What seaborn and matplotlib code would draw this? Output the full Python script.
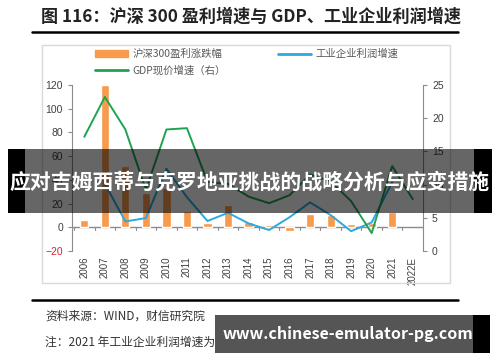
import numpy as np
import pandas as pd
import matplotlib
matplotlib.use("Agg")
import matplotlib.pyplot as plt
import seaborn as sns
from matplotlib.patches import Rectangle, Patch
from matplotlib.lines import Line2D

# values
years = ['2006', '2007', '2008', '2009', '2010', '2011', '2012', '2013', '2014',
         '2015', '2016', '2017', '2018', '2019', '2020', '2021', '2022E']
csi300_growth = [6.5, 120, 52, 29, 33, 14, 3.4, 18.5, 4.5, 2.3, -3, 11.2, 10.4, 2.8, 4, 13.2, np.nan]
industry_profit = [np.nan, 36.7, 4.9, 7.8, 49.4, 25.4, 5.3, 12.2, 3.3, -2.3, 8.5, 21.0, 10.3, -3.3, 4.1, 38.0, np.nan]
gdp_nominal = [17.2, 23.2, 18.3, 9.2, 18.3, 18.5, 10.4, 10.1, 8.2, 7.2, 8.4, 11.5, 10.5, 7.5, 2.7, 12.8, 7.8]

left_ticks = [-20, 0, 20, 40, 60, 80, 100, 120]
right_ticks = [0, 5, 10, 15, 20, 25]

c_bar = '#F79A4C'
c_blue = '#2BA9E0'
c_green = '#1FA352'
c_axis = '#8C8C8C'
c_txt = '#404040'

df = pd.DataFrame({'year': years, 'pos': np.arange(len(years)), 'csi': csi300_growth,
                   'ind': industry_profit, 'gdp': gdp_nominal})

sns.set_style('white')
plt.rcParams['font.family'] = ['Liberation Sans', 'Noto Sans CJK SC', 'DejaVu Sans']
cjk = ['Noto Sans CJK SC', 'DejaVu Sans']

W, H = 500, 362
fig = plt.figure(figsize=(5, 3.62), dpi=100)

def fx(x):
    return x / W

def fy(y):
    return 1 - y / H

ax = fig.add_axes([fx(72), fy(251), fx(423) - fx(72), fy(85) - fy(251)])
ax2 = ax.twinx()

sns.barplot(data=df, x='year', y='csi', color=c_bar, width=0.4, ax=ax, saturation=1, zorder=2)
sns.lineplot(data=df.dropna(subset=['ind']), x='pos', y='ind', color=c_blue, lw=1.4, ax=ax, zorder=3)
sns.lineplot(data=df, x='pos', y='gdp', color=c_green, lw=1.4, ax=ax2, zorder=3)

ax.set_xlim(-0.6, len(years) - 0.5)
ax.set_ylim(-20, 120)
ax2.set_ylim(0, 25)
ax.set_yticks(left_ticks)
ax2.set_yticks(right_ticks)
ax.set_xlabel('')
ax.set_ylabel('')
ax2.set_ylabel('')

# x axis drawn on the zero line, labels kept low
for a in (ax, ax2):
    a.spines['top'].set_visible(False)
    a.spines['bottom'].set_visible(False)
    a.patch.set_visible(False)
ax.spines['right'].set_visible(False)
ax2.spines['left'].set_visible(False)
ax.spines['left'].set_color(c_axis)
ax2.spines['right'].set_color(c_axis)
ax.axhline(0, color=c_axis, lw=1, zorder=1)
ax.set_xticks(np.arange(len(years)))
ax.set_xticklabels(years, rotation=90, fontsize=7, color=c_txt)
ax.tick_params(axis='x', length=0, pad=4)
for p in np.arange(-0.5, len(years), 1):
    ax.plot([p, p], [0, -2.5], color=c_axis, lw=0.8, zorder=1)

ax.tick_params(axis='y', labelsize=7.5, colors=c_txt, length=3, color=c_axis, left=True)
ax2.tick_params(axis='y', labelsize=7.5, colors=c_txt, length=3, color=c_axis, right=True)
ax.get_yticklabels()[0].set_color('#E0202E')

# legend
handles = [Patch(color=c_bar), Line2D([], [], color=c_green, lw=2), Line2D([], [], color=c_blue, lw=2)]
labels = ['沪深300盈利涨跌幅', 'GDP现价增速（右）', '工业企业利润增速']
fig.legend(handles, labels, loc='upper left', bbox_to_anchor=(fx(95), fy(49)), ncol=2,
           frameon=False, prop={'family': cjk, 'size': 7.5}, labelcolor='#595959',
           handlelength=3.2, handletextpad=0.4, columnspacing=5, labelspacing=0.6,
           borderaxespad=0, borderpad=0)

# chart frame, title and rules
fig.add_artist(Rectangle((fx(42), fy(283)), fx(450) - fx(42), fy(45) - fy(283),
                         transform=fig.transFigure, fill=False, ec='#D9D9D9', lw=1))
fig.text(fx(251), fy(17), '图 116：沪深 300 盈利增速与 GDP、工业企业利润增速', ha='center', va='center',
         fontsize=12.3, fontweight='bold', family=cjk, color='#222222')
for yy in (32, 300):
    fig.add_artist(Line2D([fx(32), fx(458)], [fy(yy), fy(yy)], transform=fig.transFigure,
                          color='black', lw=1.8))
fig.text(fx(45), fy(316), '资料来源：WIND，财信研究院', ha='left', va='center', fontsize=8.5,
         family=cjk, color='#333333', style='italic')
fig.text(fx(45), fy(342), '注：2021 年工业企业利润增速为 1-11 月值', ha='left', va='center', fontsize=8.5,
         family=cjk, color='#333333', style='italic')

# headline banner over the chart
fig.add_artist(Rectangle((fx(8), fy(213)), fx(492) - fx(8), fy(149) - fy(213),
                         transform=fig.transFigure, color='black', alpha=0.6, lw=0, zorder=10))
for x0, x1 in ((8, 25), (474, 492)):
    fig.add_artist(Rectangle((fx(x0), fy(213)), fx(x1) - fx(x0), fy(149) - fy(213),
                             transform=fig.transFigure, color='black', lw=0, zorder=10))
fig.text(fx(250), fy(182), '应对吉姆西蒂与克罗地亚挑战的战略分析与应变措施', ha='center', va='center',
         fontsize=15, fontweight='bold', family=cjk, color='white', zorder=11)

# site watermark
fig.add_artist(Rectangle((fx(215), fy(353)), fx(490) - fx(215), fy(315) - fy(353),
                         transform=fig.transFigure, color='#555555', lw=0, zorder=10))
fig.add_artist(Rectangle((fx(473), fy(353)), fx(490) - fx(473), fy(315) - fy(353),
                         transform=fig.transFigure, color='black', lw=0, zorder=10))
fig.text(fx(348), fy(334), 'www.chinese-emulator-pg.com', ha='center', va='center',
         fontsize=11.5, fontweight='bold', family=cjk, color='white', zorder=11)

fig.savefig('out.png', dpi=100)
